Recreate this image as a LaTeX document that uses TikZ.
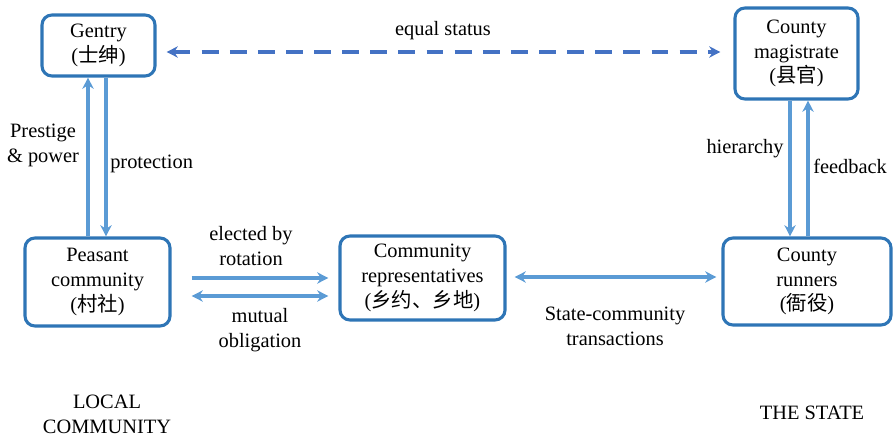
\documentclass[tikz,border=0pt]{standalone}
\usepackage{fontspec}
\setmainfont{Liberation Serif}
\newfontfamily\serifn{Liberation Serif}
\newfontfamily\cjk{Noto Sans CJK SC}
\usetikzlibrary{arrows.meta}
\definecolor{boxblue}{HTML}{2E75B6}
\definecolor{arrblue}{HTML}{5B9BD5}
\definecolor{dashblue}{HTML}{4472C4}
\begin{document}
\begin{tikzpicture}[x=0.025cm,y=-0.025cm,
  every node/.style={font=\serifn\fontsize{14.5}{17.7}\selectfont, align=center, inner sep=0pt},
  box/.style={draw=boxblue, line width=2.2pt, rounded corners=0.25cm},
  arr/.style={draw=arrblue, line width=2.2pt, -{Stealth[length=8pt,width=8pt]}},
  darr/.style={draw=arrblue, line width=2.2pt, {Stealth[length=8pt,width=8pt]}-{Stealth[length=8pt,width=8pt]}},
  dasharr/.style={draw=dashblue, line width=2.2pt, dash pattern=on 12pt off 8pt, {Stealth[length=8pt,width=8pt]}-{Stealth[length=8pt,width=8pt]}}]
\useasboundingbox (0,0) rectangle (893,438);
\node[box, minimum width=2.825cm, minimum height=1.525cm] (gentry) at (98.5,45.5) {Gentry\\({\cjk 士绅})};
\node[box, minimum width=3.075cm, minimum height=2.275cm] (mag) at (796.5,53.5) {County\\magistrate\\({\cjk 县官})};
\node[box, minimum width=3.625cm, minimum height=2.2cm] (peasant) at (97.5,282) {Peasant\\community\\({\cjk 村社})};
\node[box, minimum width=4.125cm, minimum height=2.1cm] (crep) at (422.5,278) {Community\\representatives\\({\cjk 乡约、乡地})};
\node[box, minimum width=4.2cm, minimum height=2.175cm] (runners) at (807,281.5) {County\\runners\\({\cjk 衙役})};

\coordinate (c1) at (88,0);
\coordinate (c2) at (106,0);
\coordinate (c3) at (790,0);
\coordinate (c4) at (808,0);
\coordinate (r1) at (0,278);
\coordinate (r2) at (0,296);
\coordinate (r3) at (0,277);
\coordinate (r4) at (0,52);

\draw[arr] (c1 |- peasant.north) -- (c1 |- gentry.south);
\draw[arr] (c2 |- gentry.south) -- (c2 |- peasant.north);
\draw[arr] (c3 |- mag.south) -- (c3 |- runners.north);
\draw[arr] (c4 |- runners.north) -- (c4 |- mag.south);
\draw[arr, shorten <=0.5cm, shorten >=0.25cm] (peasant.east |- r1) -- (crep.west |- r1);
\draw[darr, shorten <=0.5cm, shorten >=0.25cm] (peasant.east |- r2) -- (crep.west |- r2);
\draw[darr, shorten <=0.2cm, shorten >=0.125cm] (crep.east |- r3) -- (runners.west |- r3);
\draw[dasharr, shorten <=0.25cm, shorten >=0.325cm] (gentry.east |- r4) -- (mag.west |- r4);

\node (eq) at (443,31) {equal status};
\node (pp) at (43,145) {Prestige\\\&~power};
\node[anchor=west] (prot) at (110,164) {protection};
\node (hier) at (745,149) {hierarchy};
\node[anchor=west] (fb) at (813,166) {feedback};
\node (elect) at (251,246) {elected by\\rotation};
\node (mut) at (260,330) {mutual\\obligation};
\node (sct) at (615,326) {State-community\\transactions};
\node (local) at (107,414) {LOCAL\\COMMUNITY};
\node (state) at (812,413) {THE STATE};
\end{tikzpicture}
\end{document}
